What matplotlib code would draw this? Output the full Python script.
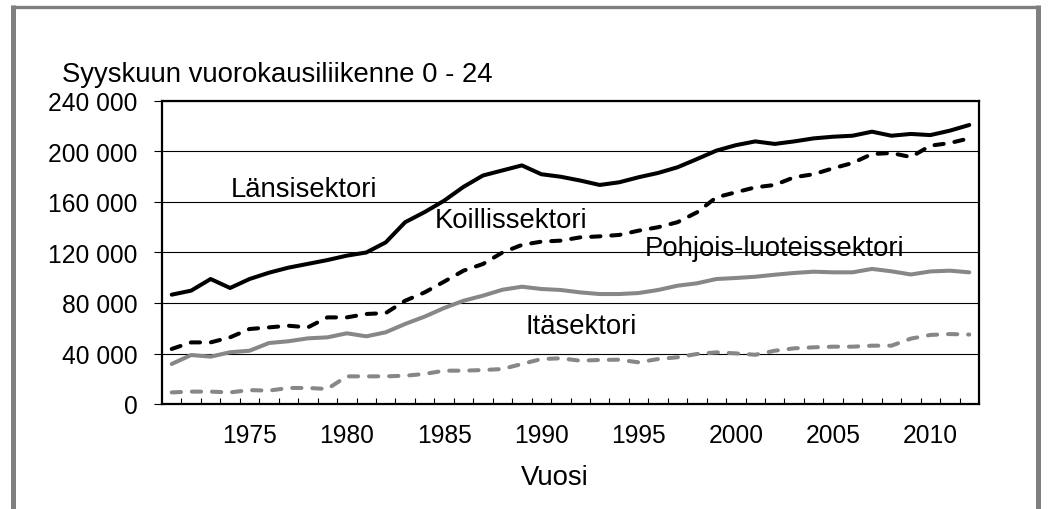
import matplotlib
matplotlib.use("Agg")
import matplotlib.pyplot as plt
import matplotlib.ticker as tkr
from matplotlib.lines import Line2D

plt.rcParams['font.family'] = ['Liberation Sans', 'DejaVu Sans']

years = list(range(1971, 2013))

# thousands of vehicles per day
lansi = [86.6, 89.8, 99.0, 91.9, 99.0, 104.0, 108.0, 111.0, 114.0, 117.5,
         120.0, 128.0, 144.0, 152.0, 161.0, 172.0, 181.0, 185.0, 189.0, 182.0,
         180.0, 177.0, 173.5, 175.6, 179.6, 183.0, 187.5, 194.0, 200.7, 205.0,
         208.0, 206.0, 208.0, 210.4, 211.7, 212.5, 215.7, 212.5, 213.9, 213.0,
         216.5, 221.0]
koillis = [43.6, 48.8, 48.8, 52.8, 59.4, 60.7, 62.0, 60.7, 68.6, 68.6,
           71.3, 72.0, 81.8, 88.4, 96.9, 105.6, 110.9, 120.0, 126.0, 128.6,
           129.4, 132.0, 132.8, 133.9, 137.3, 140.0, 144.0, 151.8, 163.7, 167.7,
           171.6, 173.5, 179.6, 182.0, 186.7, 190.9, 198.0, 198.8, 195.6, 204.6,
           206.7, 210.4]
pohjois = [31.7, 38.8, 37.5, 41.0, 42.2, 48.3, 49.7, 52.0, 52.8, 56.0,
           53.6, 56.8, 63.4, 69.2, 76.0, 81.8, 85.8, 90.5, 92.9, 91.1,
           90.3, 88.4, 87.1, 87.1, 87.9, 90.3, 93.7, 95.6, 99.0, 99.8,
           100.8, 102.4, 103.8, 104.8, 104.3, 104.3, 107.0, 105.1, 102.6, 105.0,
           105.6, 104.3]
ita = [9.2, 9.8, 9.8, 9.2, 11.0, 10.6, 12.7, 12.7, 11.9, 21.9,
       21.9, 21.9, 22.4, 23.8, 26.4, 26.4, 26.9, 27.7, 31.7, 35.6,
       36.2, 34.3, 34.9, 35.1, 33.0, 35.6, 37.0, 39.6, 40.9, 40.1,
       39.0, 42.2, 44.1, 44.9, 45.4, 45.4, 46.2, 46.2, 51.8, 54.7,
       55.4, 55.0]

W, H = 1048, 510

def fx(x):
    return x / W

def fy(y):
    return 1 - y / H

fig = plt.figure(figsize=(W / 100, H / 100), dpi=100)
ax = fig.add_axes([fx(162), fy(405), (979 - 162) / W, (405 - 102) / H])

gray = '#878787'
lw = 2.9
ax.plot(years, [v * 1000 for v in lansi], color='black', lw=lw,
        solid_joinstyle='round', solid_capstyle='round', zorder=4)
ax.plot(years, [v * 1000 for v in koillis], color='black', lw=lw,
        dashes=(2.3, 2.7), dash_capstyle='round', zorder=4)
ax.plot(years, [v * 1000 for v in pohjois], color=gray, lw=lw,
        solid_joinstyle='round', solid_capstyle='round', zorder=3)
ax.plot(years, [v * 1000 for v in ita], color=gray, lw=lw,
        dashes=(2.3, 2.7), dash_capstyle='round', zorder=3)

ax.set_xlim(1970.5, 2012.5)
ax.set_ylim(0, 240000)

tick_fs = 17.7
fs = 19.8

ax.set_yticks(range(0, 240001, 40000))
ax.yaxis.set_major_formatter(tkr.FuncFormatter(lambda v, p: f"{int(v):,}".replace(",", " ")))
ax.tick_params(axis='y', direction='out', length=5.5, width=0.8, pad=12, labelsize=tick_fs)
ax.grid(axis='y', color='black', lw=0.8)
ax.set_axisbelow(True)

ax.set_xticks([1975, 1980, 1985, 1990, 1995, 2000, 2005, 2010])
ax.xaxis.set_minor_locator(tkr.FixedLocator([y + 0.5 for y in range(1971, 2012)]))
ax.tick_params(axis='x', which='major', length=0, pad=13.5, labelsize=tick_fs)
ax.tick_params(axis='x', which='minor', direction='in', length=4.3, width=0.8)

for s in ax.spines.values():
    s.set_linewidth(1.6)
    s.set_color('black')

# series names written on the chart
fig.text(fx(230.5), fy(197), "Länsisektori", fontsize=fs, va='baseline', zorder=5)
fig.text(fx(435), fy(228), "Koillissektori", fontsize=fs, va='baseline', zorder=5)
fig.text(fx(645), fy(256), "Pohjois-luoteissektori", fontsize=fs, va='baseline', zorder=5)
fig.text(fx(526), fy(334), "Itäsektori", fontsize=fs, va='baseline', zorder=5)

fig.text(fx(61.5), fy(81.5), "Syyskuun vuorokausiliikenne 0 - 24", fontsize=fs, va='baseline')
fig.text(fx(555), fy(485), "Vuosi", fontsize=fs, ha='center', va='baseline')

# outer frame
fc = '#7f7f7f'
fig.add_artist(Line2D([fx(12), fx(1037)], [fy(7.5), fy(7.5)], color=fc, lw=2.4,
                      transform=fig.transFigure, solid_capstyle='butt'))
fig.add_artist(Line2D([fx(12.5), fx(12.5)], [fy(6), 0], color=fc, lw=3.6,
                      transform=fig.transFigure, solid_capstyle='butt'))
fig.add_artist(Line2D([fx(1037.5), fx(1037.5)], [fy(6), 0], color=fc, lw=3.6,
                      transform=fig.transFigure, solid_capstyle='butt'))

fig.savefig("out.png", dpi=100)
